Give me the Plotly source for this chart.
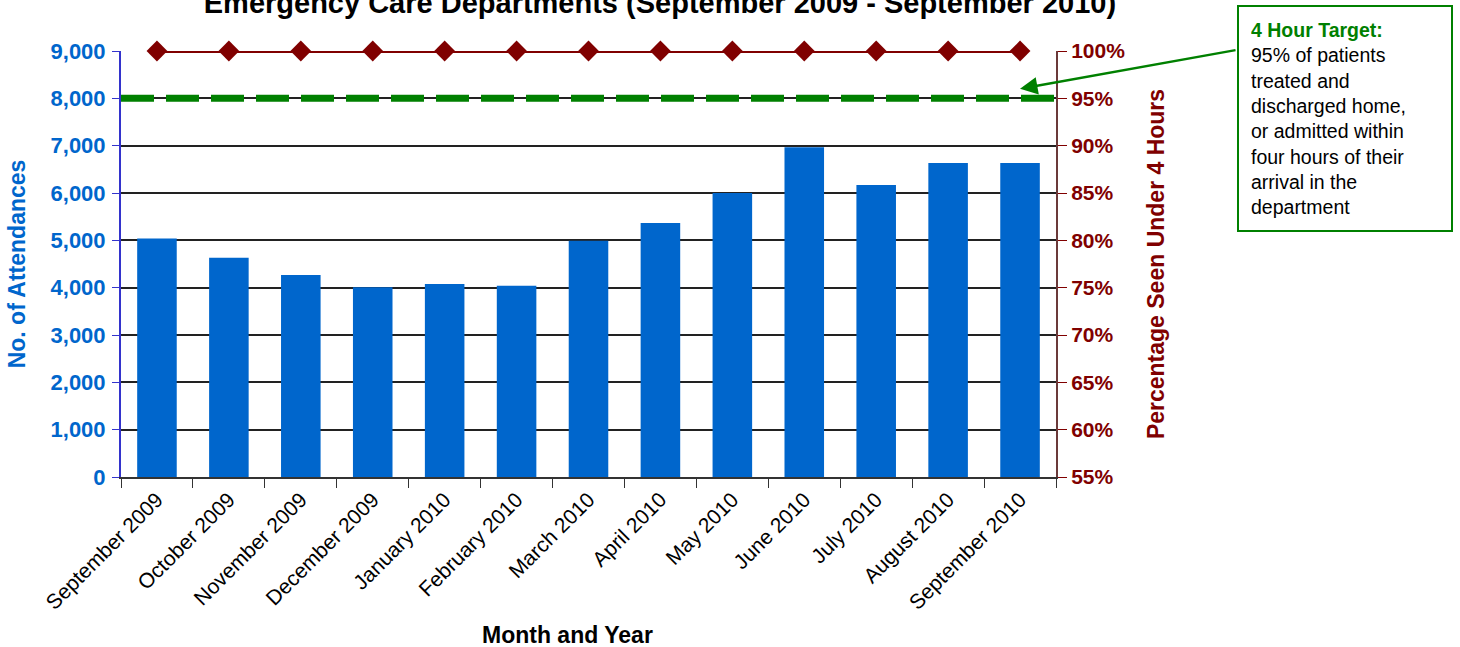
import plotly.graph_objects as go

months = ['September 2009', 'October 2009', 'November 2009', 'December 2009',
          'January 2010', 'February 2010', 'March 2010', 'April 2010',
          'May 2010', 'June 2010', 'July 2010', 'August 2010', 'September 2010']
attendances = [5040, 4630, 4270, 4010, 4080, 4040, 4990, 5365,
               6000, 6965, 6170, 6635, 6635]
pct_under_4h = [100, 100, 100, 100, 100, 100, 100, 100, 100, 100, 100, 100, 100]
target = 95

pct_ticks = [55, 60, 65, 70, 75, 80, 85, 90, 95, 100]
pct_labels = ['55%', '60%', '65%', '70%', '75%', '80%', '85%', '90%', '95%', '100%']
att_ticks = [0, 1000, 2000, 3000, 4000, 5000, 6000, 7000, 8000, 9000]

blue = '#0066cc'
maroon = '#800000'
green = '#008000'
font = 'Liberation Sans, Arial, sans-serif'

fig = go.Figure()

fig.add_trace(go.Bar(
    x=months, y=attendances,
    marker=dict(color=blue, line=dict(width=0)),
    width=0.55,
    name='Attendances'
))

fig.add_trace(go.Scatter(
    x=months, y=pct_under_4h,
    yaxis='y2',
    mode='lines+markers',
    line=dict(color=maroon, width=4),
    marker=dict(symbol='diamond', size=16, color=maroon),
    cliponaxis=False,
    name='% under 4 hours'
))

# 95% target line across the full plot width
fig.add_shape(
    type='line', xref='paper', yref='y2',
    x0=0, x1=1, y0=target, y1=target,
    line=dict(color=green, width=7, dash='33px,12px'),
    layer='above'
)

fig.update_layout(
    width=1460, height=647,
    margin=dict(l=121, r=404, t=51, b=170, autoexpand=False),
    paper_bgcolor='white', plot_bgcolor='white',
    showlegend=False,
    font=dict(family=font, color='black'),
    title=dict(
        text='<b>Emergency Care Departments (September 2009 - September 2010)</b>',
        x=0.452, xanchor='center', y=0.995, yanchor='middle',
        font=dict(size=29, color='black')
    ),
    xaxis=dict(
        type='category',
        range=[-0.5, 12.5],
        tickangle=-45,
        tickfont=dict(size=21, color='black'),
        ticks='outside', tickson='boundaries', ticklen=9, tickcolor='#333',
        showline=True, linecolor='#333', linewidth=2,
        showgrid=False,
    ),
    yaxis=dict(
        range=[0, 9000],
        tickvals=att_ticks,
        tickformat=',',
        tickfont=dict(size=22, color=blue, weight='bold'),
        ticks='outside', ticklen=7, tickcolor='#3333cc',
        ticklabelstandoff=2,
        showline=True, linecolor='#3333cc', linewidth=2,
        showgrid=True, gridcolor='#222', gridwidth=1.5,
        zeroline=False,
        title=dict(text='<b>No. of Attendances</b>', font=dict(size=23, color=blue),
                   standoff=18)
    ),
    yaxis2=dict(
        overlaying='y', side='right',
        range=[55, 100],
        tickvals=pct_ticks,
        ticktext=pct_labels,
        tickfont=dict(size=21, color=maroon, weight='bold'),
        ticks='outside', ticklen=9, tickcolor=maroon,
        ticklabelstandoff=0,
        showline=True, linecolor='#6b3a3a', linewidth=2,
        showgrid=False, zeroline=False,
        title=dict(text='<b>Percentage Seen Under 4 Hours</b>',
                   font=dict(size=23, color=maroon), standoff=24)
    ),
)

# x axis title sits a little left of the plot centre in the original
fig.add_annotation(
    xref='paper', yref='paper', x=0.478, y=-0.372,
    xanchor='center', yanchor='middle', showarrow=False,
    text='<b>Month and Year</b>', font=dict(size=23, color='black')
)

fig.add_annotation(
    xref='paper', yref='paper', x=1.1936, y=1.108,
    xanchor='left', yanchor='top', align='left',
    text=('<b><span style="color:#008000">4 Hour Target:</span></b><br>'
          '95% of patients<br>treated and<br>discharged home,<br>'
          'or admitted within<br>four hours of their<br>arrival in the<br>department'),
    font=dict(size=19.5, color='black'),
    showarrow=False,
    bordercolor=green, borderwidth=2, borderpad=12,
    bgcolor='white', width=188
)

# arrow from the box to the target line
fig.add_annotation(
    x=12.0, y=96.0, xref='x', yref='y2',
    ax=217, ay=-39, axref='pixel', ayref='pixel',
    text='', showarrow=True,
    arrowhead=2, arrowsize=1.4, arrowwidth=2.5, arrowcolor=green,
    standoff=0
)

fig.write_html('out.html', config={'displayModeBar': False},
               post_script="document.body.style.margin='0';")
